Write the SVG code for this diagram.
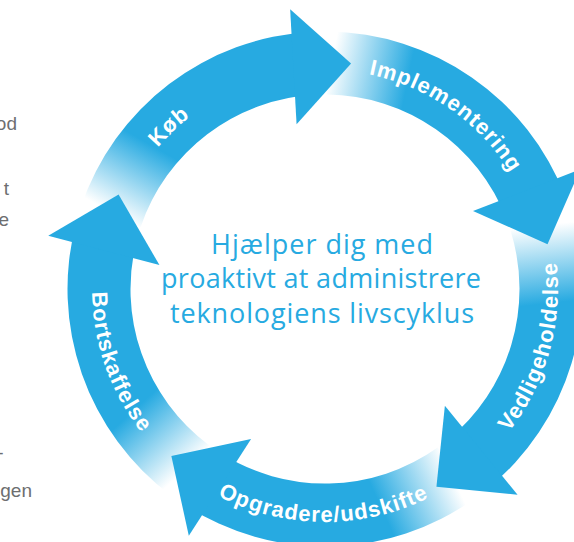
<svg xmlns="http://www.w3.org/2000/svg" width="574" height="542" viewBox="0 0 574 542">
<style>
.head{fill:#27aae1}
.lbl{font-family:"Liberation Sans",Arial,sans-serif;font-weight:bold;font-size:22px;fill:#ffffff;letter-spacing:1px}
.ctr{font-family:"Open Sans","Liberation Sans",sans-serif;font-size:27px;fill:#27aae1;text-anchor:middle}
.side{font-family:"Liberation Sans",Arial,sans-serif;font-size:19px;fill:#6d6e70;text-anchor:end}
</style>
<defs>
<linearGradient id="tailGrad" gradientUnits="userSpaceOnUse" x1="112.09" y1="213.19" x2="150.86" y2="144.94">
<stop offset="0" stop-color="#27aae1" stop-opacity="0"/>
<stop offset="1" stop-color="#27aae1" stop-opacity="1"/>
</linearGradient>
<g id="seg">
<path fill="url(#tailGrad)" d="M80.95 206.87 A257.5 257.5 0 0 1 311.07 31.88 L314.48 94.78 A194.5 194.5 0 0 0 140.66 226.96 Z"/>
<polygon class="head" points="290.15,9.33 351.09,63.5 296.59,124.15"/>
</g>
<path id="arcCW" d="M135.34 179.5 A219 219 0 0 1 514.66 179.5" fill="none"/>
<path id="arcCCW" d="M123.22 405.5 A233 233 0 0 0 526.78 405.5" fill="none"/>
</defs>
<g id="side-text">
<text class="side" x="17" y="130">od</text>
<text class="side" x="9" y="195">t</text>
<text class="side" x="9" y="226">e</text>
<text class="side" x="3.5" y="458.5">-</text>
<text class="side" x="32" y="497">gen</text>
</g>
<g id="node-kob">
<use href="#seg"/>
<text class="lbl" transform="rotate(-43.8 325 289)"><textPath href="#arcCW" startOffset="50%" text-anchor="middle">Køb</textPath></text>
</g>
<g id="node-implementering">
<use href="#seg" transform="rotate(72 325 289)"/>
<text class="lbl" transform="rotate(34.8 325 289)"><textPath href="#arcCW" startOffset="50%" text-anchor="middle">Implementering</textPath></text>
</g>
<g id="node-vedligeholdelse">
<use href="#seg" transform="rotate(144 325 289)"/>
<text class="lbl" transform="rotate(-74.4 325 289)"><textPath href="#arcCCW" startOffset="50%" text-anchor="middle">Vedligeholdelse</textPath></text>
</g>
<g id="node-opgradere">
<use href="#seg" transform="rotate(216 325 289)"/>
<text class="lbl" transform="rotate(0.4 325 289)"><textPath href="#arcCCW" startOffset="50%" text-anchor="middle">Opgradere/udskifte</textPath></text>
</g>
<g id="node-bortskaffelse">
<use href="#seg" transform="rotate(288 325 289)"/>
<text class="lbl" transform="rotate(70.5 325 289)"><textPath href="#arcCCW" startOffset="50%" text-anchor="middle">Bortskaffelse</textPath></text>
</g>
<g id="center-text">
<text class="ctr" x="322" y="254" textLength="222">Hjælper dig med</text>
<text class="ctr" x="321" y="288" textLength="320">proaktivt at administrere</text>
<text class="ctr" x="322" y="323" textLength="304">teknologiens livscyklus</text>
</g>
</svg>
